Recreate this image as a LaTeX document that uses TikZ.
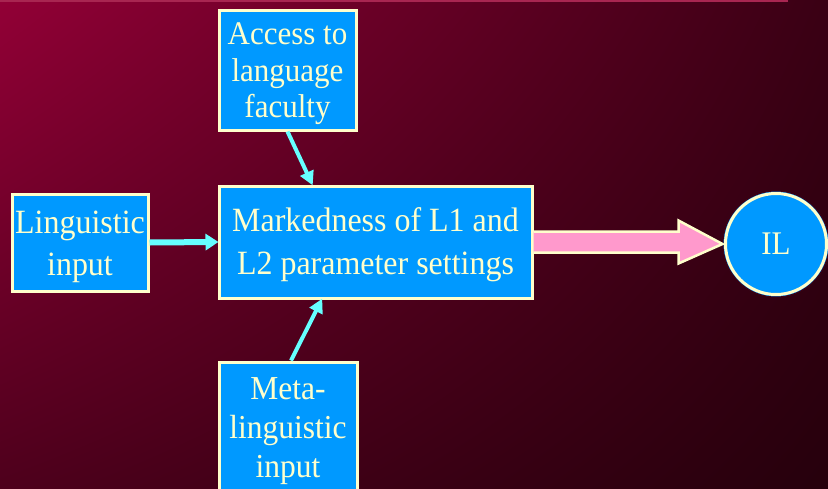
\documentclass[tikz,border=0pt]{standalone}
\usepackage{fontspec}
\setmainfont{Liberation Serif}
\newfontfamily\labelfont[FakeStretch=0.94]{Liberation Serif}
\usetikzlibrary{calc,shadings,arrows.meta}
\definecolor{boxblue}{RGB}{0,153,255}
\definecolor{cream}{RGB}{255,255,204}
\definecolor{cyanarrow}{RGB}{102,255,255}
\definecolor{pinkarrow}{RGB}{255,153,204}
\definecolor{bgA}{RGB}{146,0,54}
\definecolor{bgB}{RGB}{58,0,20}
\definecolor{bgC}{RGB}{78,0,28}
\definecolor{bgD}{RGB}{38,0,12}
\definecolor{darkedge}{RGB}{60,0,20}
\begin{document}
\begin{tikzpicture}[x=1pt,y=-1pt,
  bluebox/.style={draw=cream,line width=3pt,fill=boxblue,inner sep=0pt},
  boxtext/.style={text=cream,align=center,inner sep=0pt},
  feed/.style={draw=cyanarrow,line width=4pt,
    -{Triangle[length=14pt,width=14pt]},shorten >=-1pt}]
  % backdrop
  \clip (0,0) rectangle (828,488);
  \shade[upper left=bgA,upper right=bgB,lower left=bgC,lower right=bgD]
    (0,0) rectangle (828,488);
  \draw[line width=2pt,color=bgA!80!pink] (0,0.5) -- (788,0.5);

  % boxes, each with its text set a little below the centre
  \node[bluebox,minimum width=137,minimum height=120,
        label={[boxtext,yshift=-4pt,font=\labelfont\fontsize{33}{36.5}\selectfont]center:Access to\\language\\faculty}]
        (access) at (287.5,70) {};
  \node[bluebox,minimum width=313,minimum height=112,
        label={[boxtext,yshift=-3pt,font=\labelfont\fontsize{34}{43}\selectfont]center:Markedness of L1 and\\L2 parameter settings}]
        (main) at (375.5,242) {};
  \node[bluebox,minimum width=136,minimum height=97,
        label={[boxtext,yshift=-4pt,font=\labelfont\fontsize{34}{42}\selectfont]center:Linguistic\\input}]
        (ling) at (80,242.5) {};
  \node[bluebox,minimum width=138,minimum height=128,
        label={[boxtext,yshift=-5pt,font=\labelfont\fontsize{33.5}{39}\selectfont]center:Meta-\\linguistic\\input}]
        (meta) at (288,426) {};
  \node[circle,draw=darkedge,line width=1pt,fill=boxblue,
        minimum size=106,inner sep=0pt] (ilo) at (776,244) {};
  \node[circle,draw=cream,line width=3pt,fill=boxblue,text=cream,
        minimum size=101,inner sep=0pt,font=\labelfont\fontsize{33}{36}\selectfont]
        (il) at (776,244) {IL};

  % feeding arrows
  \draw[feed,line width=6pt,-{Triangle[length=13pt,width=16pt]}]
    (ling.east) -- (main.west);
  \draw[feed] (access.south) -- ($(main.north west)!0.30!(main.north east)$);
  \draw[feed] ($(meta.north)+(3,0)$) -- ($(main.south west)!0.33!(main.south east)$);

  % outgoing block arrow
  \draw[draw=cream,line width=2.5pt,fill=pinkarrow,line join=miter]
    ($(main.east)+(0,-10.5)$) -- ($(main.east)+(145,-10.5)$)
    -- ($(main.east)+(145,-21.5)$) -- (ilo.west)
    -- ($(main.east)+(145,21.5)$) -- ($(main.east)+(145,10.5)$)
    -- ($(main.east)+(0,10.5)$);
\end{tikzpicture}
\end{document}
